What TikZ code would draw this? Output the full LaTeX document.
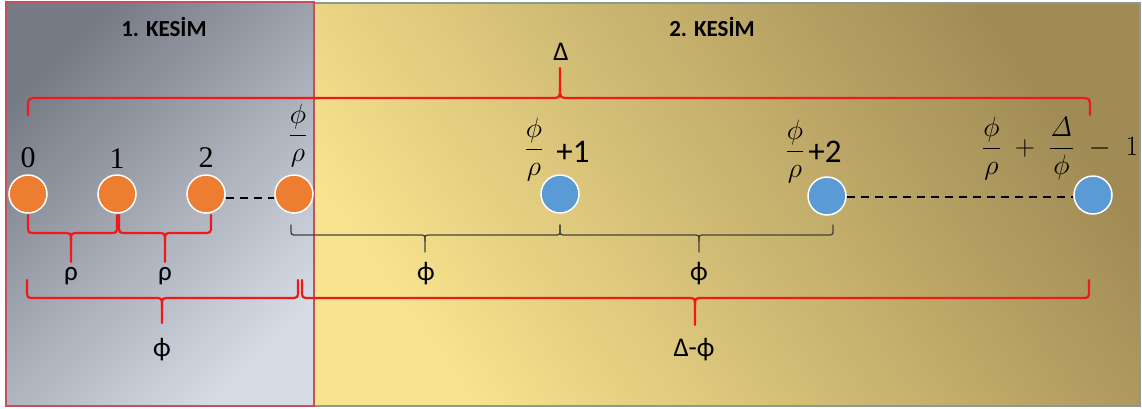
\RequirePackage{fix-cm}
\documentclass[tikz,border=0pt]{standalone}
\usepackage[no-math]{fontspec}
\newfontfamily\calib{Carlito}
\newfontfamily\libserif{Liberation Serif}
\usetikzlibrary{calc}
\definecolor{brred}{HTML}{F01818}
\definecolor{brgray}{HTML}{45433A}
\definecolor{dotorange}{HTML}{ED7D31}
\definecolor{dotblue}{HTML}{5B9BD5}
\definecolor{grayA}{HTML}{767A84}
\definecolor{grayB}{HTML}{D6DCE6}
\definecolor{yelA}{HTML}{A08B55}
\definecolor{yelB}{HTML}{F8E38E}
\definecolor{leftborder}{HTML}{C4515A}
\definecolor{rightborder}{HTML}{8C9A96}
% brace: #1 xa, #2 xb, #3 xm, #4 y ends, #5 y line, #6 y tip, #7 corner (horizontal), #8 corner (signed vertical), #9 style
\newcommand\brc[9]{%
  \draw[#9] (#1,#4) -- (#1,{#5-(#8)}) .. controls (#1,#5) .. ({#1+#7},#5) -- ({#3-#7},#5)
      .. controls (#3,#5) .. (#3,{#5+(#8)}) -- (#3,#6);
  \draw[#9] (#2,#4) -- (#2,{#5-(#8)}) .. controls (#2,#5) .. ({#2-#7},#5) -- ({#3+#7},#5)
      .. controls (#3,#5) .. (#3,{#5+(#8)});
}
\tikzset{
  redbrace/.style={draw=brred, line width=2.2pt, line cap=round},
  graybrace/.style={draw=brgray, line width=1.3pt, line cap=round},
  ocirc/.style={circle, fill=dotorange, draw=white, line width=1.5pt, minimum size=38pt, inner sep=0pt},
  bcirc/.style={circle, fill=dotblue, draw=white, line width=1.5pt, minimum size=38pt, inner sep=0pt},
  mathlab/.style={inner sep=0pt, font=\fontsize{28}{32}\selectfont},
  digitlab/.style={inner sep=0pt, font=\libserif\fontsize{30}{34}\selectfont},
  sanslab/.style={inner sep=0pt, font=\calib\fontsize{27}{31}\selectfont},
  plus/.style={inner sep=0pt, font=\calib\fontsize{33}{37}\selectfont},
  title/.style={inner sep=0pt, font=\calib\bfseries\fontsize{23}{27}\selectfont},
  dashline/.style={draw=black, line width=2pt, dash pattern=on 8pt off 6pt},
}
\begin{document}
\begin{tikzpicture}[x=1pt, y=-1pt]
\useasboundingbox (0,0) rectangle (1142,408);
% panels
\shade[top color=yelA, bottom color=yelB, shading angle=-55] (314,3) rectangle (1140,406);
\draw[rightborder, line width=1.5pt] (314,3) rectangle (1140,406);
\shade[top color=grayA, bottom color=grayB, shading angle=45] (6,2) rectangle (314,406);
\draw[leftborder, line width=1.3pt] (6,2) rectangle (314,406);
% titles
\node[title] (t1) at (164,27) {1. KESİM};
\node[title] (t2) at (712,27) {2. KESİM};
% top brace
\brc{28}{1090}{560}{115}{98}{68}{10}{-10}{redbrace}
\node[sanslab] (delta) at (561,52) {Δ};
% circles
\node[ocirc] (o1) at (28,194) {};
\node[ocirc] (o2) at (117,194) {};
\node[ocirc] (o3) at (206,194) {};
\node[ocirc] (o4) at (294,194) {};
\node[bcirc] (b1) at (560,194) {};
\node[bcirc] (b2) at (827,196) {};
\node[bcirc] (b3) at (1093,195) {};
\draw[dashline] ([yshift=-4pt]o3.east) -- ([yshift=-4pt]o4.west);
\draw[dashline] ([yshift=-1pt]b2.east) -- ([yshift=-2pt]b3.west);
% node labels
\node[digitlab, anchor=base] (l0) at (28,167) {0};
\node[digitlab, anchor=base] (l1) at (117,168) {1};
\node[digitlab, anchor=base] (l2) at (206,167) {2};
\node[mathlab, anchor=base] (l3) at (298,142) {$\displaystyle\frac{\phi}{\rho}$};
\node[mathlab, anchor=base] (l4f) at (534,156) {$\displaystyle\frac{\phi}{\rho}$};
\node[plus, anchor=base] (l4p) at (573,162) {+1};
\node[mathlab, anchor=base] (l5f) at (795,158) {$\displaystyle\frac{\phi}{\rho}$};
\node[plus, anchor=base] (l5p) at (825,162) {+2};
\node[mathlab, anchor=base west] (l6) at (982,155)
  {$\displaystyle\frac{\phi}{\rho}\mathbin{\;+\;}\frac{\mathit{\Delta}}{\phi}\hspace{15pt}\mathord{-}\hspace{15pt}1$};
% rho braces
\brc{28}{117}{71}{215}{233}{262}{8}{8}{redbrace}
\brc{119}{211}{165}{215}{233}{262}{8}{8}{redbrace}
\node[sanslab] (r1) at (71,276) {ρ};
\node[sanslab] (r2) at (165,276) {ρ};
% phi gray braces
\brc{291}{560}{425}{225}{235}{252}{6}{6}{graybrace}
\brc{560}{833}{699}{225}{235}{252}{6}{6}{graybrace}
\node[sanslab] (p1) at (426,274) {ϕ};
\node[sanslab] (p2) at (699,274) {ϕ};
% bottom red braces
\brc{27}{298}{162}{280}{298}{323}{8}{8}{redbrace}
\brc{302}{1089}{695}{280}{298}{325}{8}{8}{redbrace}
\node[sanslab] (p3) at (162,350) {ϕ};
\node[sanslab] (dp) at (694,350) {Δ-ϕ};
\end{tikzpicture}
\end{document}
